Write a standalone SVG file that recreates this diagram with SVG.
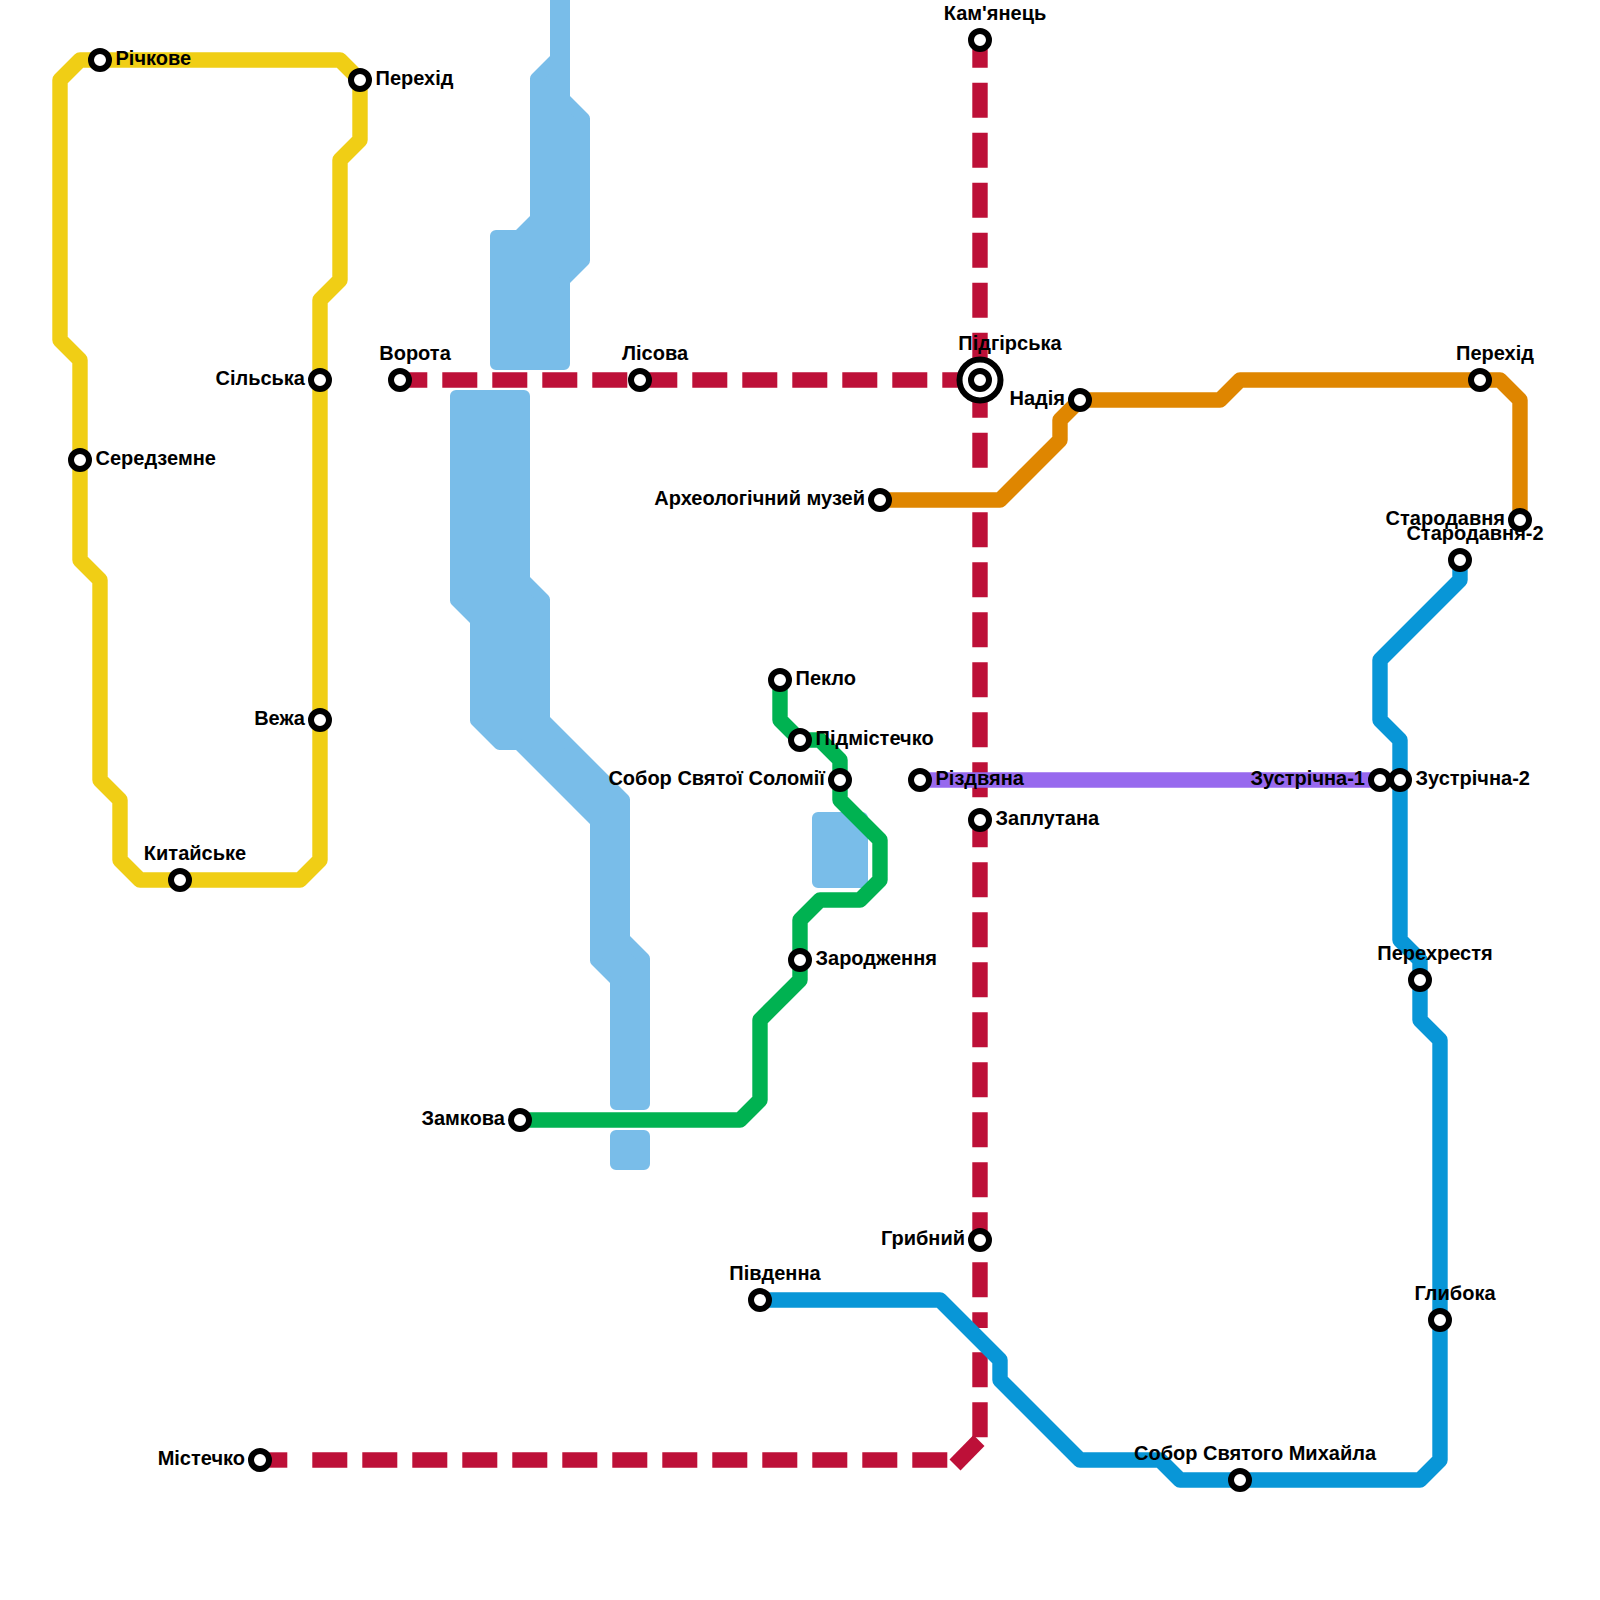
<svg xmlns="http://www.w3.org/2000/svg" width="1600" height="1600" viewBox="0 0 1600 1600">
<style>
.w{fill:#79bde9;stroke:#79bde9;stroke-width:12;stroke-linejoin:round}
.l{fill:none;stroke-width:15.4;stroke-linejoin:round;stroke-linecap:butt}
.r{stroke:#bd1038;stroke-dasharray:35 15}
.s{fill:#fff;stroke:#000;stroke-width:6}
text{font-family:"Liberation Sans",Arial,sans-serif;font-size:20px;font-weight:700;fill:#000}
.m{text-anchor:middle}
.e{text-anchor:end}
</style>
<rect width="1600" height="1600" fill="#fff"/>
<g id="water">
<path class="w" d="M556 -10V58.500L536 78.500V218.500L518.500 236H496V364H564V280.500L584 260.500V118.500L564 98.500V-10Z"/>
<path class="w" d="M456 396V600.500L476 620.500V720.500L499.500 744H518.500L596 821.500V960.500L616 980.500V1104H644V958.500L624 938.500V799.500L544 719.500V599.500L524 579.500V396Z"/>
<rect class="w" x="818" y="818" width="44" height="64"/>
<rect class="w" x="616" y="1136" width="28" height="28"/>
</g>
<g id="connectors">
<path class="l r" style="stroke-dasharray:none" d="M979 1440.500L955 1465"/>
<path class="l r" d="M947.300 1460H312.300"/>
<path class="l r" style="stroke-dasharray:none" d="M287.300 1460H260"/>
<path class="l r" d="M392.300 380H980"/>
<path class="l r" d="M980 32.700V470"/>
<path class="l r" d="M980 512.300V1328"/>
<path class="l r" d="M980 1352.300V1438"/>
<path class="l" stroke="#f0ce15" d="M100 60H340L360 80V140L340 160V280L320 300V860L300 880H140L120 860V800L100 780V580L80 560V360L60 340V80L80 60H100"/>
<path class="l" stroke="#df8600" d="M880 500H1000L1060 440V420L1080 400H1220L1240 380H1500L1520 400V520"/>
<path class="l" stroke="#00b251" d="M520 1120H740L760 1100V1020L800 980V920L820 900H860L880 880V840L840 800V760L820 740H800L780 720V680"/>
<path class="l" stroke="#9769ee" d="M920 780H1380"/>
<path class="l" stroke="#0896d7" d="M1460 560V580L1380 660V720L1400 740V940L1420 960V1020L1440 1040V1460L1420 1480H1180L1160 1460H1080L1000 1380V1360L940 1300H760"/>
</g>
<g id="stations">
<g id="n1"><circle class="s" cx="100" cy="60" r="9"/><text x="115.500" y="65">Річкове</text></g>
<g id="n2"><circle class="s" cx="360" cy="80" r="9"/><text x="375.500" y="85">Перехід</text></g>
<g id="n3"><circle class="s" cx="320" cy="380" r="9"/><text class="e" x="305" y="385">Сільська</text></g>
<g id="n4"><circle class="s" cx="320" cy="720" r="9"/><text class="e" x="305" y="725">Вежа</text></g>
<g id="n5"><circle class="s" cx="80" cy="460" r="9"/><text x="95.500" y="465">Середземне</text></g>
<g id="n6"><circle class="s" cx="180" cy="880" r="9"/><text class="m" x="195" y="860">Китайське</text></g>
<g id="n7"><circle class="s" cx="400" cy="380" r="9"/><text class="m" x="415" y="360">Ворота</text></g>
<g id="n8"><circle class="s" cx="640" cy="380" r="9"/><text class="m" x="655" y="360">Лісова</text></g>
<g id="n9"><circle class="s" cx="980" cy="380" r="20.500"/><circle class="s" cx="980" cy="380" r="9"/><text class="m" x="1010" y="350">Підгірська</text></g>
<g id="n10"><circle class="s" cx="980" cy="40" r="9"/><text class="m" x="995" y="20">Кам'янець</text></g>
<g id="n11"><circle class="s" cx="1080" cy="400" r="9"/><text class="e" x="1065" y="405">Надія</text></g>
<g id="n12"><circle class="s" cx="880" cy="500" r="9"/><text class="e" x="865" y="505">Археологічний музей</text></g>
<g id="n13"><circle class="s" cx="1480" cy="380" r="9"/><text class="m" x="1495" y="360">Перехід</text></g>
<g id="n14"><circle class="s" cx="1520" cy="520" r="9"/><text class="e" x="1505" y="525">Стародавня</text></g>
<g id="n15"><circle class="s" cx="1460" cy="560" r="9"/><text class="m" x="1475" y="540">Стародавня-2</text></g>
<g id="n16"><circle class="s" cx="1380" cy="780" r="9"/><text class="e" x="1365" y="785">Зустрічна-1</text></g>
<g id="n17"><circle class="s" cx="1400" cy="780" r="9"/><text x="1415.500" y="785">Зустрічна-2</text></g>
<g id="n18"><circle class="s" cx="920" cy="780" r="9"/><text x="935.500" y="785">Різдвяна</text></g>
<g id="n19"><circle class="s" cx="980" cy="820" r="9"/><text x="995.500" y="825">Заплутана</text></g>
<g id="n20"><circle class="s" cx="780" cy="680" r="9"/><text x="795.500" y="685">Пекло</text></g>
<g id="n21"><circle class="s" cx="800" cy="740" r="9"/><text x="815.500" y="745">Підмістечко</text></g>
<g id="n22"><circle class="s" cx="840" cy="780" r="9"/><text class="e" x="825" y="785">Собор Святої Соломії</text></g>
<g id="n23"><circle class="s" cx="800" cy="960" r="9"/><text x="815.500" y="965">Зародження</text></g>
<g id="n24"><circle class="s" cx="520" cy="1120" r="9"/><text class="e" x="505" y="1125">Замкова</text></g>
<g id="n25"><circle class="s" cx="1420" cy="980" r="9"/><text class="m" x="1435" y="960">Перехрестя</text></g>
<g id="n26"><circle class="s" cx="1440" cy="1320" r="9"/><text class="m" x="1455" y="1300">Глибока</text></g>
<g id="n27"><circle class="s" cx="1240" cy="1480" r="9"/><text class="m" x="1255" y="1460">Собор Святого Михайла</text></g>
<g id="n28"><circle class="s" cx="760" cy="1300" r="9"/><text class="m" x="775" y="1280">Південна</text></g>
<g id="n29"><circle class="s" cx="980" cy="1240" r="9"/><text class="e" x="965" y="1245">Грибний</text></g>
<g id="n30"><circle class="s" cx="260" cy="1460" r="9"/><text class="e" x="245" y="1465">Містечко</text></g>
</g>
</svg>
